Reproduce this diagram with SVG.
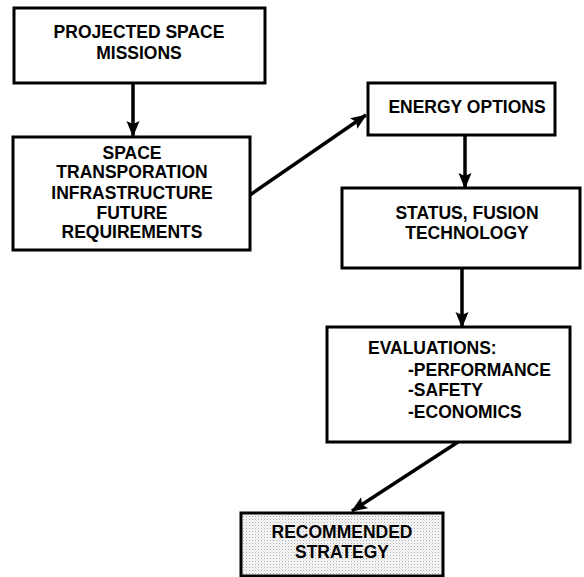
<svg xmlns="http://www.w3.org/2000/svg" width="584" height="577" viewBox="0 0 584 577">
<style>
.box{fill:#fff;stroke:#000;stroke-width:3}
.t{font-family:"Liberation Sans",Arial,sans-serif;font-weight:bold;font-size:17.5px;fill:#000}
.c{text-anchor:middle}
.con{stroke:#000;stroke-width:3.5;fill:none}
</style>
<defs>
<marker id="ah" markerUnits="userSpaceOnUse" markerWidth="16" markerHeight="16" viewBox="0 0 16 16" refX="15" refY="8" orient="auto">
<path d="M0,1.5 L16,8 L0,14.5 L3,8 Z" fill="#000"/>
</marker>
<pattern id="stip" width="3" height="3" patternUnits="userSpaceOnUse">
<rect width="3" height="3" fill="#f7f7f7"/>
<rect x="0" y="0" width="1" height="1" fill="#b0b0b0"/>
<rect x="1.5" y="1.5" width="1" height="1" fill="#d6d6d6"/>
</pattern>
</defs>
<g id="connectors">
<line class="con" x1="133" y1="83" x2="133" y2="136" marker-end="url(#ah)"/>
<line class="con" x1="250" y1="195" x2="366" y2="115" marker-end="url(#ah)"/>
<line class="con" x1="465" y1="135" x2="465" y2="188" marker-end="url(#ah)"/>
<line class="con" x1="462" y1="268" x2="462" y2="327" marker-end="url(#ah)"/>
<line class="con" x1="458" y1="442" x2="352" y2="511" marker-end="url(#ah)"/>
</g>
<g id="n1">
<rect class="box" x="14" y="8" width="251" height="75"/>
<text class="t c" x="139" y="38">PROJECTED SPACE</text>
<text class="t c" x="139" y="59">MISSIONS</text>
</g>
<g id="n2">
<rect class="box" x="13" y="137" width="237" height="113"/>
<text class="t c" x="132" y="159">SPACE</text>
<text class="t c" x="132" y="178">TRANSPORATION</text>
<text class="t c" x="132" y="199">INFRASTRUCTURE</text>
<text class="t c" x="132" y="219">FUTURE</text>
<text class="t c" x="132" y="238">REQUIREMENTS</text>
</g>
<g id="n3">
<rect class="box" x="368" y="83" width="187" height="52"/>
<text class="t c" x="467" y="113">ENERGY OPTIONS</text>
</g>
<g id="n4">
<rect class="box" x="342" y="188" width="238" height="80"/>
<text class="t c" x="467" y="219">STATUS, FUSION</text>
<text class="t c" x="467" y="239">TECHNOLOGY</text>
</g>
<g id="n5">
<rect class="box" x="327" y="327" width="243" height="115"/>
<text class="t" x="368" y="354">EVALUATIONS:</text>
<text class="t" x="408" y="376">-PERFORMANCE</text>
<text class="t" x="408" y="396">-SAFETY</text>
<text class="t" x="408" y="418">-ECONOMICS</text>
</g>
<g id="n6">
<rect x="241" y="513" width="202" height="63" fill="url(#stip)" stroke="#000" stroke-width="3"/>
<text class="t c" x="342" y="538">RECOMMENDED</text>
<text class="t c" x="342" y="558">STRATEGY</text>
</g>
</svg>
